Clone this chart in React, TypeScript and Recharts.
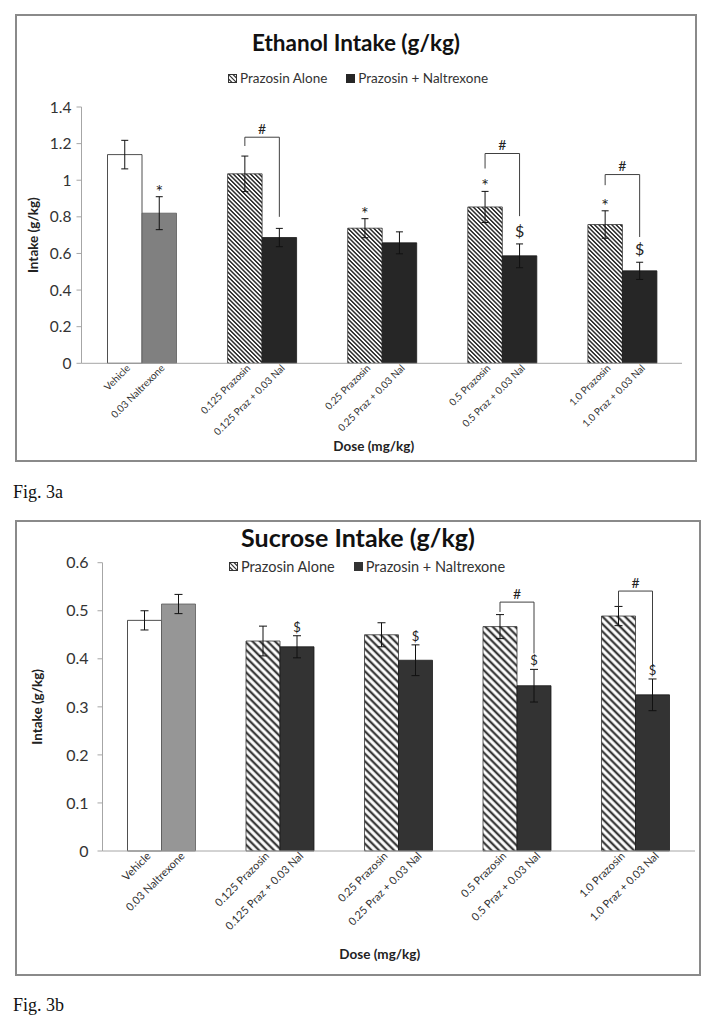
import React from 'react';
import { BarChart, Bar, XAxis, YAxis, ErrorBar, Cell, Legend, LabelList } from 'recharts';

const FONT = 'Lato, "Open Sans", sans-serif';

// categories and tick labels (two bars per dose group)
const groups = ['Vehicle', '0.125', '0.25', '0.5', '1.0'];
const firstLabels = ['Vehicle', '0.125 Prazosin', '0.25 Prazosin', '0.5 Prazosin', '1.0 Prazosin'];
const secondLabels = ['0.03 Naltrexone', '0.125 Praz + 0.03 Nal', '0.25 Praz + 0.03 Nal', '0.5 Praz + 0.03 Nal', '1.0 Praz + 0.03 Nal'];
const seriesNames = ['Prazosin Alone', 'Prazosin + Naltrexone'];

// Fig. 3a - ethanol
const ethanolAlone = [1.14, 1.035, 0.738, 0.854, 0.758];
const ethanolAloneErr = [0.078, 0.097, 0.052, 0.085, 0.075];
const ethanolNal = [0.82, 0.687, 0.658, 0.587, 0.505];
const ethanolNalErr = [0.09, 0.05, 0.06, 0.065, 0.047];
const ethanolAloneMarks = ['', '', '*', '*', '*'];
const ethanolNalMarks = ['*', '', '', '$', '$'];
const ethanolBracketTop = [null, 1.235, null, 1.146, 1.031];
const ethanolBracketLeft = [null, 1.187, null, 1.064, 0.973];
const ethanolBracketRight = [null, 0.8, null, 0.804, 0.69];
const ethanolTicks = [0, 0.2, 0.4, 0.6, 0.8, 1, 1.2, 1.4];

// Fig. 3b - sucrose
const sucroseAlone = [0.48, 0.437, 0.45, 0.467, 0.489];
const sucroseAloneErr = [0.02, 0.031, 0.025, 0.025, 0.02];
const sucroseNal = [0.514, 0.425, 0.397, 0.344, 0.325];
const sucroseNalErr = [0.02, 0.023, 0.032, 0.034, 0.033];
const sucroseAloneMarks = ['', '', '', '', ''];
const sucroseNalMarks = ['', '$', '$', '$', '$'];
const sucroseBracketTop = [null, null, null, 0.518, 0.541];
const sucroseBracketLeft = [null, null, null, 0.4975, 0.509];
const sucroseBracketRight = [null, null, null, 0.411, 0.383];
const sucroseTicks = [0, 0.1, 0.2, 0.3, 0.4, 0.5, 0.6];

const buildRows = (alone: number[], aloneErr: number[], nal: number[], nalErr: number[]) =>
  groups.map((g, i) => ({ group: g, alone: alone[i], aloneErr: aloneErr[i], nal: nal[i], nalErr: nalErr[i] }));

const boxOf = (p: any) => {
  const vb = p.viewBox && p.viewBox.width !== undefined ? p.viewBox : p;
  return { x: Number(vb.x), y: Number(vb.y), width: Number(vb.width), height: Number(vb.height) };
};

const PairTick = (props: any) => {
  const { x, y, index, barSize, fontSize, drop } = props;
  const items = [
    { text: firstLabels[index], cx: x - barSize / 2 },
    { text: secondLabels[index], cx: x + barSize / 2 },
  ];
  return (
    <g>
      {items.map((it) => {
        const ax = it.cx + 4;
        const ay = y + drop;
        return (
          <text key={it.text} x={ax} y={ay} transform={`rotate(-45 ${ax} ${ay})`} textAnchor="end" dy="0.35em"
            fontSize={fontSize} fontFamily={FONT} fill="#333">
            {it.text}
          </text>
        );
      })}
    </g>
  );
};

const LegendIcon = ({ kind, dark }: { kind: number; dark: string }) => {
  if (kind === 1) {
    return (
      <svg width={9} height={9} style={{ marginRight: 3 }}>
        <rect x={0} y={0} width={9} height={9} fill={dark} />
      </svg>
    );
  }
  return (
    <svg width={9} height={9} style={{ marginRight: 3 }}>
      <rect x={0.5} y={0.5} width={8} height={8} fill="#fff" stroke="#333" strokeWidth={1} />
      <line x1={0} y1={0} x2={9} y2={9} stroke="#333" strokeWidth={1.2} />
      <line x1={0} y1={4.5} x2={4.5} y2={9} stroke="#333" strokeWidth={1.2} />
      <line x1={4.5} y1={0} x2={9} y2={4.5} stroke="#333" strokeWidth={1.2} />
    </svg>
  );
};

type PanelProps = {
  title: string;
  titleSize: number;
  titleTop: number;
  left: number;
  top: number;
  width: number;
  height: number;
  margin: { top: number; right: number; bottom: number; left: number };
  yAxisWidth: number;
  xAxisHeight: number;
  domain: [number, number];
  ticks: number[];
  alone: number[];
  aloneErr: number[];
  nal: number[];
  nalErr: number[];
  aloneMarks: string[];
  nalMarks: string[];
  bracketTop: (number | null)[];
  bracketLeft: (number | null)[];
  bracketRight: (number | null)[];
  hatchId: string;
  hatchGap: number;
  hatchStroke: number;
  hatchColor: string;
  darkFill: string;
  grayFill: string;
  barSize: number;
  tickFont: number;
  tickMargin: number;
  xTickFont: number;
  xTickDrop: number;
  legendFont: number;
  legendTop: number;
  legendShift: number;
  labelFont: number;
  yLabelOffset: number;
  xLabelDx: number;
  xLabelOffset: number;
  markFont: number;
  hashFont: number;
  starLift: number;
  dollarLift: number;
  dollarFont: number;
  capWidth: number;
};

const IntakePanel = (p: PanelProps) => {
  const rows = buildRows(p.alone, p.aloneErr, p.nal, p.nalErr);
  const chartW = p.width - 4;
  const chartH = p.height - 4;

  const markContent = (marks: string[], vals: number[], errs: number[]) => (props: any) => {
    const i = props.index;
    const mark = marks[i];
    if (!mark) return null;
    const { x, y, width, height } = boxOf(props);
    const ppu = height / vals[i];
    const errTop = y - errs[i] * ppu;
    const isDollar = mark === '$';
    return (
      <text x={x + width / 2} y={errTop - (isDollar ? p.dollarLift : p.starLift)} textAnchor="middle"
        fontSize={isDollar ? p.dollarFont : p.markFont} fontFamily={FONT} fill="#222">
        {mark}
      </text>
    );
  };

  const bracketContent = (props: any) => {
    const i = props.index;
    const t = p.bracketTop[i];
    const l = p.bracketLeft[i];
    const r = p.bracketRight[i];
    if (t == null || l == null || r == null) return null;
    const { x, y, width, height } = boxOf(props);
    const base = y + height;
    const ppu = height / p.alone[i];
    const px = (v: number) => base - v * ppu;
    const xl = x + width / 2;
    const xr = x + width * 1.5;
    return (
      <g>
        <path d={`M${xl},${px(l)}V${px(t)}H${xr}V${px(r)}`} stroke="#404040" strokeWidth={1} fill="none" />
        <text x={(xl + xr) / 2} y={px(t) - 3.5} textAnchor="middle" fontSize={p.hashFont} fontFamily={FONT} fill="#222">
          #
        </text>
      </g>
    );
  };

  return (
    <div style={{ position: 'absolute', left: p.left, top: p.top, width: p.width, height: p.height, boxSizing: 'border-box',
      border: '2px solid #8a8a8a', background: '#fff' }}>
      <div style={{ position: 'absolute', left: 0, top: p.titleTop, width: '100%', textAlign: 'center', fontFamily: FONT,
        fontWeight: 700, fontSize: p.titleSize, lineHeight: 1, color: '#111', zIndex: 2 }}>
        {p.title}
      </div>
      <BarChart width={chartW} height={chartH} data={rows} margin={p.margin} barGap={0}>
        <defs>
          <pattern id={p.hatchId} patternUnits="userSpaceOnUse" width={p.hatchGap} height={p.hatchGap} patternTransform="rotate(-45)">
            <rect x={0} y={0} width={p.hatchGap} height={p.hatchGap} fill="#fff" />
            <line x1={p.hatchGap / 2} y1={-1} x2={p.hatchGap / 2} y2={p.hatchGap + 1} stroke={p.hatchColor} strokeWidth={p.hatchStroke} />
          </pattern>
        </defs>
        <XAxis dataKey="group" interval={0} height={p.xAxisHeight} tickLine={false} tickSize={0} tickMargin={0}
          axisLine={{ stroke: '#a6a6a6', strokeWidth: 1 }}
          tick={(tp: any) => <PairTick {...tp} barSize={p.barSize} fontSize={p.xTickFont} drop={p.xTickDrop} />}
          label={{ value: 'Dose (mg/kg)', position: 'insideBottom', offset: p.xLabelOffset, dx: p.xLabelDx,
            style: { fontFamily: FONT, fontWeight: 700, fontSize: p.labelFont, fill: '#222' } }} />
        <YAxis domain={p.domain} ticks={p.ticks} width={p.yAxisWidth} tickSize={5} tickMargin={p.tickMargin}
          axisLine={{ stroke: '#a6a6a6', strokeWidth: 1 }} tickLine={{ stroke: '#a6a6a6' }}
          tick={{ fontFamily: FONT, fontSize: p.tickFont, fill: '#333' }}
          label={{ value: 'Intake (g/kg)', angle: -90, position: 'insideLeft', offset: p.yLabelOffset,
            style: { textAnchor: 'middle', fontFamily: FONT, fontWeight: 700, fontSize: p.labelFont, fill: '#222' } }} />
        <Legend verticalAlign="middle" align="center"
          wrapperStyle={{ top: p.legendTop, left: 0, width: chartW, paddingLeft: p.legendShift, boxSizing: 'border-box' }}
          content={(lp: any) => {
            const items = [...(lp.payload || [])].sort(
              (a: any, b: any) => seriesNames.indexOf(a.value) - seriesNames.indexOf(b.value));
            return (
              <div style={{ display: 'flex', justifyContent: 'center', alignItems: 'center', gap: 19, fontFamily: FONT,
                fontSize: p.legendFont, color: '#333', lineHeight: 1.2 }}>
                {items.map((entry: any) => (
                  <span key={entry.value} style={{ display: 'flex', alignItems: 'center' }}>
                    <LegendIcon kind={seriesNames.indexOf(entry.value)} dark={p.darkFill} />
                    {entry.value}
                  </span>
                ))}
              </div>
            );
          }} />
        <Bar dataKey="alone" name={seriesNames[0]} fill={`url(#${p.hatchId})`} barSize={p.barSize} isAnimationActive={false}>
          {rows.map((r, i) => (
            <Cell key={r.group} fill={i === 0 ? '#ffffff' : `url(#${p.hatchId})`} stroke={i === 0 ? '#222' : '#333'} strokeWidth={0.8} />
          ))}
          <ErrorBar dataKey="aloneErr" width={p.capWidth} stroke="#111" strokeWidth={1} />
          <LabelList content={markContent(p.aloneMarks, p.alone, p.aloneErr)} />
          <LabelList content={bracketContent} />
        </Bar>
        <Bar dataKey="nal" name={seriesNames[1]} fill={p.darkFill} barSize={p.barSize} isAnimationActive={false}>
          {rows.map((r, i) => (
            <Cell key={r.group} fill={i === 0 ? p.grayFill : p.darkFill} stroke={i === 0 ? '#5a5a5a' : '#1a1a1a'} strokeWidth={0.8} />
          ))}
          <ErrorBar dataKey="nalErr" width={p.capWidth} stroke="#111" strokeWidth={1} />
          <LabelList content={markContent(p.nalMarks, p.nal, p.nalErr)} />
        </Bar>
      </BarChart>
    </div>
  );
};

export default function App() {
  return (
    <div style={{ position: 'absolute', left: 0, top: 0, width: 714, height: 1029, background: '#fff' }}>
      <IntakePanel
        title="Ethanol Intake (g/kg)" titleSize={22.5} titleTop={16}
        left={15} top={14} width={682} height={448}
        margin={{ top: 91, right: 13, bottom: 8.7, left: 10.5 }} yAxisWidth={54} xAxisHeight={88}
        domain={[0, 1.4]} ticks={ethanolTicks}
        alone={ethanolAlone} aloneErr={ethanolAloneErr} nal={ethanolNal} nalErr={ethanolNalErr}
        aloneMarks={ethanolAloneMarks} nalMarks={ethanolNalMarks}
        bracketTop={ethanolBracketTop} bracketLeft={ethanolBracketLeft} bracketRight={ethanolBracketRight}
        hatchId="hatchEthanol" hatchGap={3.05} hatchStroke={1.35} hatchColor="#141414"
        darkFill="#262626" grayFill="#808080" barSize={34.5}
        tickFont={15.5} tickMargin={5} xTickFont={10} xTickDrop={3} legendFont={13.5} legendTop={54} legendShift={4}
        labelFont={13.5} yLabelOffset={6} xLabelDx={-8} xLabelOffset={0}
        markFont={18} hashFont={14} starLift={-1} dollarLift={7} dollarFont={16} capWidth={3.5}
      />
      <div style={{ position: 'absolute', left: 13, top: 481, fontFamily: '"Liberation Serif", serif', fontSize: 18, lineHeight: '22px', color: '#111' }}>
        Fig. 3a
      </div>
      <IntakePanel
        title="Sucrose Intake (g/kg)" titleSize={25} titleTop={3}
        left={15} top={520} width={686} height={456}
        margin={{ top: 40.7, right: 4, bottom: 10, left: 10.5 }} yAxisWidth={75} xAxisHeight={113}
        domain={[0, 0.6]} ticks={sucroseTicks}
        alone={sucroseAlone} aloneErr={sucroseAloneErr} nal={sucroseNal} nalErr={sucroseNalErr}
        aloneMarks={sucroseAloneMarks} nalMarks={sucroseNalMarks}
        bracketTop={sucroseBracketTop} bracketLeft={sucroseBracketLeft} bracketRight={sucroseBracketRight}
        hatchId="hatchSucrose" hatchGap={5.3} hatchStroke={2.3} hatchColor="#3a3a3a"
        darkFill="#333333" grayFill="#969696" barSize={34}
        tickFont={16} tickMargin={9} xTickFont={11} xTickDrop={3} legendFont={14.5} legendTop={36} legendShift={18}
        labelFont={13.5} yLabelOffset={10} xLabelDx={-19} xLabelOffset={5}
        markFont={14} hashFont={14} starLift={4} dollarLift={4} dollarFont={13} capWidth={4}
      />
      <div style={{ position: 'absolute', left: 13, top: 994, fontFamily: '"Liberation Serif", serif', fontSize: 18, lineHeight: '22px', color: '#111' }}>
        Fig. 3b
      </div>
    </div>
  );
}
